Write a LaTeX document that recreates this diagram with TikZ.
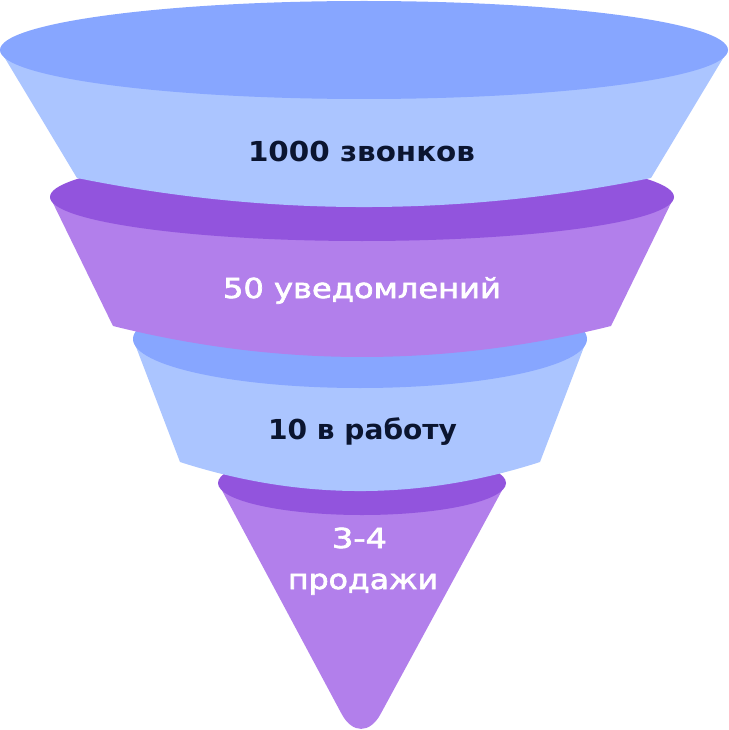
\documentclass[tikz,border=0pt]{standalone}
\usepackage{fontspec}
\setmainfont{DejaVu Sans}
\usepackage{graphicx}
\definecolor{blueL}{HTML}{ABC5FF}
\definecolor{blueD}{HTML}{87A6FF}
\definecolor{purpL}{HTML}{B27FEB}
\definecolor{purpD}{HTML}{9254DD}
\definecolor{navy}{HTML}{0B1530}
\tikzset{
  lbl/.style={anchor=base, inner sep=0pt},
  darktxt/.style={lbl, text=navy},
  whitetxt/.style={lbl, text=white}
}
\newcommand{\funtxt}[2]{\resizebox{#1pt}{\height}{\fontsize{27.5}{32}\selectfont #2}}
\newcommand{\wtxt}{\addfontfeatures{FakeBold=2.2}}
\begin{document}
\begin{tikzpicture}[x=1pt,y=-1pt]
\useasboundingbox (0,0) rectangle (728,730);
% segment 4 (bottom cone), rounded tip only
\fill[purpL] (218,483) -- (341.6,713.9) .. controls (352.3,733.8) and (369.8,733.9) .. (380.6,714.0) -- (506,483) -- cycle;
\fill[purpD] (362,483) ellipse [x radius=144, y radius=32];
% segment 3
\fill[blueL] (133,339) -- (180,462) .. controls (300,500.7) and (420,500.7) .. (540,462) -- (587,339) -- cycle;
\fill[blueD] (360,339) ellipse [x radius=227, y radius=49];
% segment 2
\fill[purpL] (50,197) -- (113,326) .. controls (279,367.3) and (445,367.3) .. (611,326) -- (674,197) -- cycle;
\fill[purpD] (362,197) ellipse [x radius=312, y radius=44];
% segment 1
\fill[blueL] (0,50) -- (77,178) .. controls (268.3,216.7) and (459.7,216.7) .. (651,178) -- (728,50) -- cycle;
\fill[blueD] (364,50) ellipse [x radius=364, y radius=49];
% labels
\node[darktxt] (t1) at (361.5,162) {\funtxt{227}{\bfseries 1000 звонков}};
\node[whitetxt] (t2) at (362,298) {\funtxt{278}{\wtxt 50 уведомлений}};
\node[darktxt] (t3) at (362.5,439) {\funtxt{189}{\bfseries 10 в работу}};
\node[whitetxt] (t4) at (359.5,548) {\funtxt{55}{\wtxt 3-4}};
\node[whitetxt] (t5) at (363,589) {\funtxt{150}{\wtxt продажи}};
\end{tikzpicture}
\end{document}
